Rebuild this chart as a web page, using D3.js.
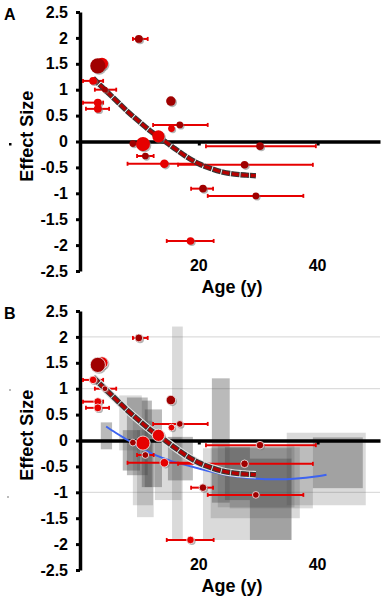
<!DOCTYPE html>
<html><head><meta charset="utf-8">
<script src="https://cdn.jsdelivr.net/npm/d3@7"></script>
<style>
body{margin:0;background:#fff}
svg{display:block}
text{font-family:"Liberation Sans",Arial,sans-serif;font-weight:bold;fill:#000}
</style>
</head><body><svg id="c" width="383" height="601"></svg>
<script>
// ---- data ----
const yTicks = [2.5, 2, 1.5, 1, 0.5, 0, -0.5, -1, -1.5, -2, -2.5];
const yTickLabels = ["2.5", "2", "1.5", "1", "0.5", "0", "-0.5", "-1", "-1.5", "-2", "-2.5"];
const xTicks = [20, 40];
const xTickLabels = ["20", "40"];
const gridValuesB = [2, 1, -1];

// study points (age in years, effect size)
const ptAge    = [9.9, 3.7, 3.0, 2.2, 4.2, 3.0, 3.0, 15.3, 16.8, 15.4, 13.2, 10.6, 8.9, 11.0, 14.2, 27.7, 20.7, 29.6, 30.3, 18.6];
const ptEffect = [1.98, 1.5, 1.46, 1.17, 1.0, 0.75, 0.63, 0.78, 0.32, 0.25, 0.1, -0.05, -0.04, -0.28, -0.43, -0.45, -0.91, -1.05, -0.09, -1.92];
const ptAgeLo  = [8.9, null, null, 0.5, 2.5, 0.5, 1.0, null, 12.3, null, null, null, null, 9.6, 8.0, 16.5, 18.7, 21.5, 21.2, 14.6];
const ptAgeHi  = [11.4, null, null, 3.9, 6.1, 3.9, 4.9, null, 21.5, null, null, null, null, 12.4, 20.0, 39.2, 22.4, 37.6, 39.7, 22.5];
const ptWeight = [15, 36, 56, 14, 8, 15, 15, 22, 11, 11, 36, 48, 11, 11, 18, 14, 14, 11, 14, 14];
const ptGroup  = ["d","b","d","b","d","b","b","d","d","b","b","b","d","d","b","d","d","d","d","b"];

// fitted trend (dashed)
const fitAge    = [2.2, 4, 6, 8, 10, 12, 14, 16, 18, 20, 22, 24, 26, 28, 29.6];
const fitEffect = [1.22, 1.02, 0.8, 0.58, 0.38, 0.19, 0.03, -0.14, -0.3, -0.43, -0.52, -0.59, -0.63, -0.65, -0.66];

// blue trend (panel B)
const blueAge    = [4.4, 6, 8, 10, 12, 14, 16, 18, 20, 22, 24, 26, 28, 30, 32, 34, 36, 38, 40, 41.5];
const blueEffect = [0.27, 0.15, 0.01, -0.13, -0.25, -0.34, -0.42, -0.48, -0.54, -0.6, -0.65, -0.69, -0.72, -0.74, -0.75, -0.75, -0.74, -0.72, -0.69, -0.66];

// grey range boxes (panel B)
const boxAgeLo = [3.5, 6.6, 7.9, 10.4, 8.9, 9.6, 10.9, 12.6, 15.5, 14.8, 7.2, 22.2, 20.7, 22.0, 23.2, 25.2, 28.6, 34.8, 39.2, 24.4];
const boxAgeHi = [5.4, 10.4, 11.4, 12.1, 12.3, 12.4, 13.8, 17.1, 17.3, 19.0, 10.1, 25.2, 35.6, 37.0, 36.1, 39.2, 35.6, 48.1, 47.6, 28.6];
const boxEffLo = [-0.17, -0.19, -0.67, -0.9, -1.25, -1.48, -0.9, -1.15, -1.9, -0.77, -0.58, -1.2, -1.92, -1.5, -1.29, -1.31, -1.92, -1.25, -0.92, -1.15];
const boxEffHi = [0.35, 0.87, 0.83, 0.77, 0.38, 0.2, 0.6, 0.06, 2.2, 0.07, 0.2, 1.2, -0.15, -0.13, -0.1, -0.13, -0.35, 0.15, 0.06, -0.13];
const boxLevel = ["m","l","m","m","l","l","m","l","l","m","m","m","l","l","l","l","m","l","m","m"];

// ---- drawing ----
const svg = d3.select("#c");
const x = d3.scaleLinear().domain([0, 50.5]).range([80, 380]);
const rScale = d3.scaleSqrt().domain([0, 56]).range([0, 7.6]);
const colorScale = d3.scaleOrdinal().domain(["d", "b"]).range(["#a00000", "#e60000"]);
const boxOpacity = d3.scaleOrdinal().domain(["l", "m"]).range([0.2, 0.37]);

const points = ptAge.map((a, i) => ({age: a, eff: ptEffect[i], lo: ptAgeLo[i], hi: ptAgeHi[i], w: ptWeight[i], g: ptGroup[i]}));
const fit = fitAge.map((a, i) => [a, fitEffect[i]]);
const blue = blueAge.map((a, i) => [a, blueEffect[i]]);
const boxes = boxAgeLo.map((a, i) => ({x0: a, x1: boxAgeHi[i], y0: boxEffLo[i], y1: boxEffHi[i], lv: boxLevel[i]}));

function panel(top, label, isB) {
  const y = d3.scaleLinear().domain([-2.5, 2.5]).range([top + 259, top]);
  const g = svg.append("g");

  g.append("text").attr("x", 4).attr("y", top + 8).attr("font-size", 16).text(label);

  if (isB) {
    g.selectAll(".grid").data(gridValuesB).join("line")
      .attr("x1", 81).attr("x2", 380)
      .attr("y1", d => y(d)).attr("y2", d => y(d))
      .attr("stroke", "#d4d4d4").attr("stroke-width", 1);
    g.selectAll(".box").data(boxes).join("rect")
      .attr("x", d => x(d.x0)).attr("width", d => x(d.x1) - x(d.x0))
      .attr("y", d => y(d.y1)).attr("height", d => y(d.y0) - y(d.y1))
      .attr("fill", "#444").attr("fill-opacity", d => boxOpacity(d.lv));
  }

  // y axis
  const ya = g.append("g").attr("transform", "translate(80,0)")
    .call(d3.axisLeft(y).tickValues(yTicks).tickSize(4).tickSizeOuter(0).tickPadding(8)
      .tickFormat((d, i) => yTickLabels[i]));
  ya.select(".domain").attr("stroke", "#000").attr("stroke-width", 3.5);
  ya.selectAll(".tick line").attr("stroke", "#000").attr("stroke-width", 3);
  ya.selectAll(".tick text").attr("font-size", 16).attr("font-family", "Liberation Sans, Arial, sans-serif").attr("font-weight", "bold");

  // x axis along zero
  const xa = g.append("g").attr("transform", `translate(0,${y(0)})`)
    .call(d3.axisBottom(x).tickValues(xTicks).tickSize(4).tickSizeOuter(0).tickFormat(""));
  xa.select(".domain").attr("stroke", "#000").attr("stroke-width", 3.5);
  xa.selectAll(".tick line").attr("stroke", "#000").attr("stroke-width", 3);

  g.selectAll(".xl").data(xTicks).join("text")
    .attr("x", d => x(d)).attr("y", y(-2.5)).attr("text-anchor", "middle").attr("font-size", 16)
    .text((d, i) => xTickLabels[i]);
  g.append("text").attr("x", 232).attr("y", y(-2.5) + 22).attr("text-anchor", "middle").attr("font-size", 18).text("Age (y)");
  g.append("text").attr("transform", `translate(33,${y(0.1)}) rotate(-90)`).attr("text-anchor", "middle").attr("font-size", 18).text("Effect Size");

  const line = d3.line().x(d => x(d[0])).y(d => y(d[1])).curve(d3.curveMonotoneX);

  if (isB) {
    g.append("path").attr("d", line(blue)).attr("fill", "none").attr("stroke", "#3d63f0").attr("stroke-width", 2);
  }

  // error bars
  const eb = points.filter(p => p.lo !== null);
  g.selectAll(".eb").data(eb).join("line")
    .attr("x1", d => x(d.lo)).attr("x2", d => x(d.hi)).attr("y1", d => y(d.eff)).attr("y2", d => y(d.eff))
    .attr("stroke", "#e60000").attr("stroke-width", 2);
  g.selectAll(".cl").data(eb).join("line")
    .attr("x1", d => x(d.lo)).attr("x2", d => x(d.lo)).attr("y1", d => y(d.eff) - 2).attr("y2", d => y(d.eff) + 2)
    .attr("stroke", "#e60000").attr("stroke-width", 1.8);
  g.selectAll(".ch").data(eb).join("line")
    .attr("x1", d => x(d.hi)).attr("x2", d => x(d.hi)).attr("y1", d => y(d.eff) - 2).attr("y2", d => y(d.eff) + 2)
    .attr("stroke", "#e60000").attr("stroke-width", 1.8);

  // dashed fit: outlined dashes
  if (isB) g.append("path").attr("d", line(fit)).attr("fill", "none").attr("stroke", "#e2e2e2").attr("stroke-width", 7.5)
    .attr("stroke-dasharray", "9.5,0.01");
  g.append("path").attr("d", line(fit)).attr("fill", "none").attr("stroke", "#383838").attr("stroke-width", 5.4)
    .attr("stroke-dasharray", "8.6,0.9").attr("stroke-dashoffset", 0.8);
  g.append("path").attr("d", line(fit)).attr("fill", "none").attr("stroke", "#b80000").attr("stroke-width", 3.2)
    .attr("stroke-dasharray", "7,2.5");

  // points: shadow then dot
  g.selectAll(".sh").data(points).join("circle")
    .attr("cx", d => x(d.age) + 1.3).attr("cy", d => y(d.eff) + 1.3).attr("r", d => rScale(d.w))
    .attr("fill", "#777").attr("fill-opacity", 0.55);
  g.selectAll(".pt").data(points).join("circle")
    .attr("cx", d => x(d.age)).attr("cy", d => y(d.eff)).attr("r", d => rScale(d.w))
    .attr("fill", d => colorScale(d.g))
    .attr("stroke", isB ? "#f4f4f4" : "none").attr("stroke-width", isB ? 0.8 : 0);

  return y;
}

panel(12, "A", false);
panel(311, "B", true);

// small stray marks seen in the figure
svg.append("rect").attr("x", 9).attr("y", 143).attr("width", 2.5).attr("height", 2.5).attr("fill", "#000");
svg.append("rect").attr("x", 9).attr("y", 389).attr("width", 2).attr("height", 2).attr("fill", "#bbb");
svg.append("rect").attr("x", 7).attr("y", 496).attr("width", 2).attr("height", 2).attr("fill", "#bbb");
</script>
</body></html>
